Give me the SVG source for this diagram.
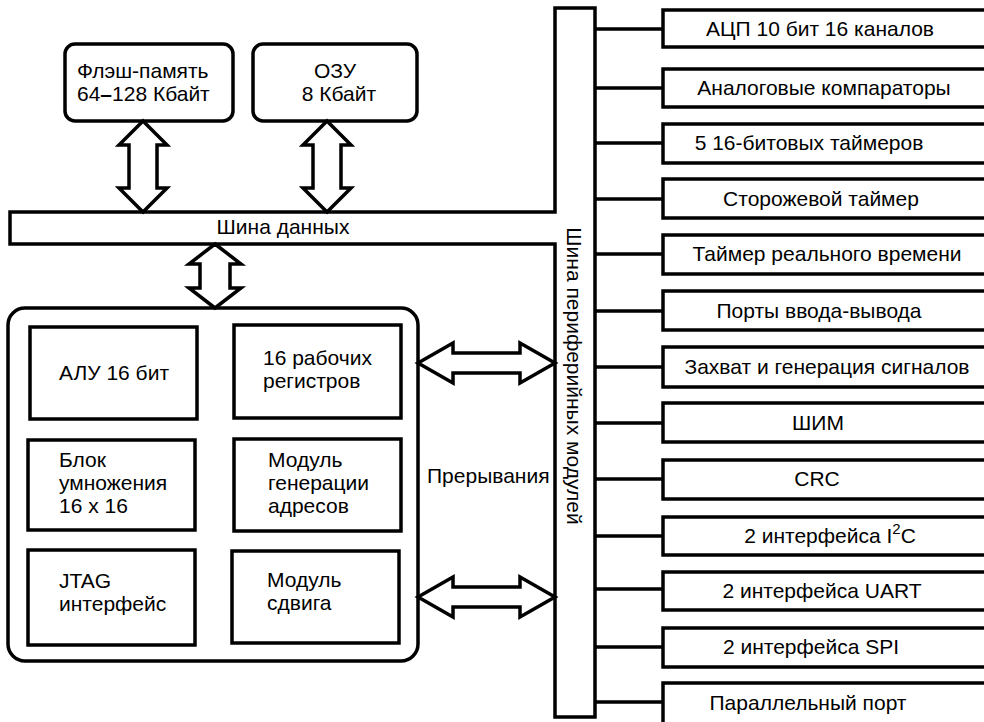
<svg xmlns="http://www.w3.org/2000/svg" width="984" height="722" viewBox="0 0 984 722">
<style>
text{font-family:"Liberation Sans",Arial,sans-serif;font-size:21px;fill:#000}
.c{text-anchor:middle}
.box{fill:#fff;stroke:#000;stroke-width:3.5}
.rbox{fill:#fff;stroke:#000;stroke-width:3.5}
.arr{fill:#fff;stroke:#000;stroke-width:3.5;stroke-linejoin:miter}
.ln{stroke:#000;stroke-width:3.5;fill:none}
</style>
<rect width="984" height="722" fill="#fff"/>

<g id="buses">
<path class="box" d="M10,212 H555 V8 H595 V717 H555 V244 H10 Z"/>
<text class="c" x="283" y="234">Шина данных</text>
<text class="c" transform="translate(567,376) rotate(90)">Шина периферийных модулей</text>
</g>

<g id="flash">
<rect class="rbox" x="65" y="44" width="168" height="77" rx="10"/>
<text x="77" y="78">Флэш-память</text>
<text x="77" y="101">64<tspan font-weight="bold">–</tspan>128 Кбайт</text>
</g>

<g id="ram">
<rect class="rbox" x="253" y="44" width="164" height="77" rx="10"/>
<text class="c" x="335" y="78">ОЗУ</text>
<text class="c" x="339" y="101">8 Кбайт</text>
</g>

<g id="cpu">
<rect class="rbox" x="8" y="308" width="410" height="353" rx="17"/>
<text x="427" y="483">Прерывания</text>
</g>
<g id="alu">
<rect class="box" x="30" y="327" width="167" height="92"/>
<text x="59" y="380">АЛУ 16 бит</text>
</g>
<g id="regs">
<rect class="box" x="234" y="325" width="167" height="93"/>
<text x="263" y="365">16 рабочих</text>
<text x="263" y="388">регистров</text>
</g>
<g id="mul">
<rect class="box" x="28" y="440" width="167" height="90"/>
<text x="59" y="467">Блок</text>
<text x="59" y="490">умножения</text>
<text x="59" y="513">16 x 16</text>
</g>
<g id="agu">
<rect class="box" x="234" y="439" width="167" height="92"/>
<text x="268" y="467">Модуль</text>
<text x="268" y="490">генерации</text>
<text x="268" y="513">адресов</text>
</g>
<g id="jtag">
<rect class="box" x="28" y="550" width="167" height="95"/>
<text x="59" y="588">JTAG</text>
<text x="59" y="611">интерфейс</text>
</g>
<g id="shift">
<rect class="box" x="232" y="551" width="167" height="92"/>
<text x="267" y="587">Модуль</text>
<text x="267" y="610">сдвига</text>
</g>

<g id="p1"><rect class="box" x="663" y="10" width="330" height="37"/><text class="c" x="820" y="36">АЦП 10 бит 16 каналов</text></g>
<g id="p2"><rect class="box" x="663" y="69" width="330" height="38"/><text class="c" x="824" y="95">Аналоговые компараторы</text></g>
<g id="p3"><rect class="box" x="663" y="124" width="330" height="39"/><text class="c" x="809" y="150">5 16-битовых таймеров</text></g>
<g id="p4"><rect class="box" x="663" y="179" width="330" height="39"/><text class="c" x="821" y="206">Сторожевой таймер</text></g>
<g id="p5"><rect class="box" x="663" y="235" width="330" height="39"/><text class="c" x="827" y="261">Таймер реального времени</text></g>
<g id="p6"><rect class="box" x="663" y="291" width="330" height="39"/><text class="c" x="819" y="318">Порты ввода-вывода</text></g>
<g id="p7"><rect class="box" x="663" y="347" width="330" height="40"/><text class="c" x="827" y="374">Захват и генерация сигналов</text></g>
<g id="p8"><rect class="box" x="663" y="403" width="330" height="39"/><text class="c" x="818" y="430">ШИМ</text></g>
<g id="p9"><rect class="box" x="663" y="460" width="330" height="39"/><text class="c" x="817" y="486">CRC</text></g>
<g id="p10"><rect class="box" x="663" y="517" width="330" height="38"/><text class="c" x="830" y="543">2 интерфейса I<tspan dy="-9" font-size="15">2</tspan><tspan dy="9">C</tspan></text></g>
<g id="p11"><rect class="box" x="663" y="572" width="330" height="38"/><text class="c" x="822" y="598">2 интерфейса UART</text></g>
<g id="p12"><rect class="box" x="663" y="628" width="330" height="39"/><text class="c" x="811" y="654">2 интерфейса SPI</text></g>
<g id="p13"><rect class="box" x="663" y="683" width="330" height="45"/><text class="c" x="808" y="710">Параллельный порт</text></g>

<g id="connectors">
<polygon class="arr" points="143,121 167,145 157,145 157,188 167,188 143,212 119,188 129,188 129,145 119,145"/>
<polygon class="arr" points="327,121 351,145 341,145 341,188 351,188 327,212 303,188 313,188 313,145 303,145"/>
<polygon class="arr" points="215,244 241,264 230,264 230,288 241,288 215,308 189,288 200,288 200,264 189,264"/>
<polygon class="arr" points="418,363 453,343 453,353 520,353 520,343 555,363 520,383 520,373 453,373 453,383"/>
<polygon class="arr" points="418,597 453,577 453,587 520,587 520,577 555,597 520,617 520,607 453,607 453,617"/>
<path class="ln" d="M595,29H663M595,88H663M595,143H663M595,199H663M595,254H663M595,311H663M595,367H663M595,423H663M595,479H663M595,536H663M595,589H663M595,647H663M595,702H663"/>
</g>
</svg>
